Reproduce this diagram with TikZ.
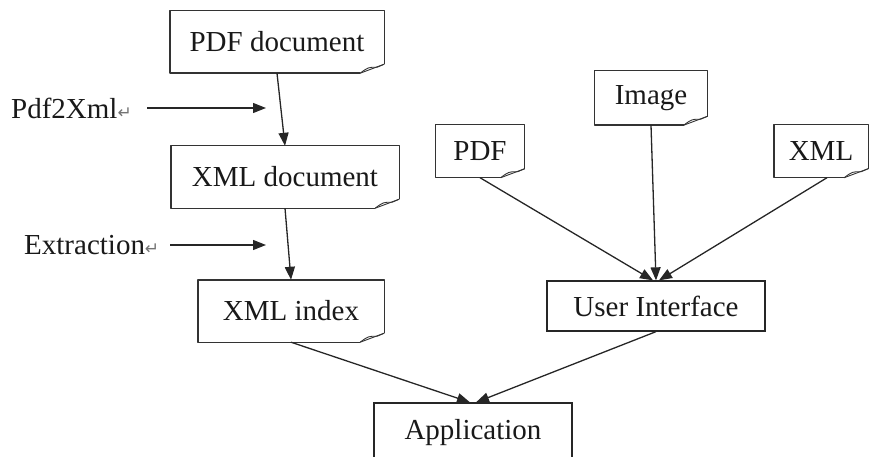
\documentclass[tikz,border=0pt]{standalone}
\usepackage{fontspec}
\setmainfont{Liberation Serif}
\newfontfamily\retfont{DejaVu Sans}
\usetikzlibrary{arrows.meta,calc}
\tikzset{
  lblfont/.style={font=\fontsize{29}{31}\selectfont},
  docbox/.style={inner sep=0pt, lblfont, text=black!90},
  plainbox/.style={draw=black!85, line width=1.3pt, inner sep=0pt, lblfont, text=black!90},
  link/.style={draw=black!85, line width=1.3pt, -{Triangle[length=13pt,width=10pt]}},
  lbl/.style={inner sep=0pt, anchor=west, lblfont, text=black!90},
  frame/.style={draw=black!80, line width=1.4pt, line join=round}
}
\newcommand\docframe[1]{%
  \draw[frame] ($(#1.south east)+(-24,0)$) -- (#1.south west) -- (#1.north west) -- (#1.north east) -- ($(#1.south east)+(0,-9)$);
  \draw[frame, line width=0.9pt] ($(#1.south east)+(-24,0)$) -- ($(#1.south east)+(0,-9)$);
  \draw[frame, line width=0.9pt] ($(#1.south east)+(-24,0)$) .. controls ($(#1.south east)+(-16,-6)$) .. ($(#1.south east)+(-7,-6)$) -- ($(#1.south east)+(0,-9)$);
}
\newcommand\retmark{{\retfont\fontsize{17}{18}\selectfont\textcolor{black!55}{↵}}}
\begin{document}
\begin{tikzpicture}[x=1pt,y=-1pt]
  \path[use as bounding box] (0,0) rectangle (869,457);
  \clip (0,0) rectangle (869,457);

  % left chain
  \node[docbox, minimum width=214pt, minimum height=62pt] (pdfdoc) at (277,42) {PDF document};
  \node[docbox, minimum width=228pt, minimum height=62pt] (xmldoc) at (285,177) {XML document};
  \node[docbox, minimum width=186pt, minimum height=62pt] (xmlidx) at (291,311) {XML index};
  \docframe{pdfdoc}
  \docframe{xmldoc}
  \docframe{xmlidx}

  % right sources
  \node[docbox, minimum width=89pt, minimum height=53pt] (pdf) at (480,151) {PDF};
  \node[docbox, minimum width=113pt, minimum height=54pt] (img) at (651,98) {Image};
  \node[docbox, minimum width=94pt, minimum height=53pt] (xml) at (821,151) {XML};
  \docframe{pdf}
  \docframe{img}
  \docframe{xml}

  \node[plainbox, minimum width=218pt, minimum height=50pt] (ui) at (656,306) {User Interface};
  \node[plainbox, minimum width=198pt, minimum height=60pt] (app) at (473,433) {Application};

  % side labels
  \node[lbl] (lp) at (11,108) {Pdf2Xml\retmark};
  \node[lbl] (le) at (24,245) {Extraction\retmark};
  \coordinate (lpa) at (147,108);
  \coordinate (lpb) at (266,108);
  \coordinate (lea) at (170,245);
  \coordinate (leb) at (266,245);
  \draw[link] (lpa) -- (lpb);
  \draw[link] (lea) -- (leb);

  % connectors
  \draw[link] (pdfdoc.south) -- (xmldoc.north);
  \draw[link] (xmldoc.south) -- (xmlidx.north);
  \draw[link] (pdf.south) -- ($(ui.north)+(-3,0)$);
  \draw[link] (img.south) -- (ui.north);
  \draw[link] ($(xml.south)+(6,0)$) -- ($(ui.north)+(3,0)$);
  \draw[link] (xmlidx.south) -- ($(app.north)+(-3,0)$);
  \draw[link] (ui.south) -- ($(app.north)+(3,0)$);
\end{tikzpicture}
\end{document}
